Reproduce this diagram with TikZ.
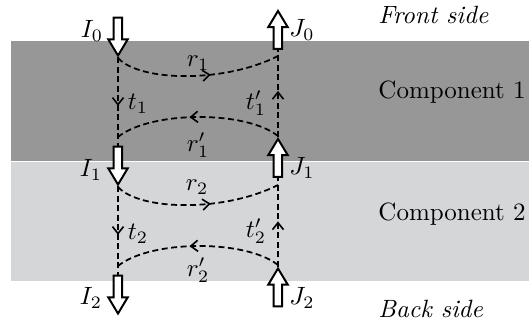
\documentclass[tikz,border=0pt]{standalone}
\usepackage{amsmath,amssymb}
\usepackage{tikz}
\usetikzlibrary{arrows.meta, shapes.arrows, decorations.markings}
\definecolor{layerdark}{RGB}{151, 151, 151}
\definecolor{layerlight}{RGB}{213, 214, 216}
\tikzset{
  flux/.style={
    single arrow,
    draw=black,
    fill=white,
    line width=0.8pt,
    inner sep=1.3pt,
    single arrow head extend=2.2pt,
    single arrow tip angle=62,
    minimum height=15.2pt
  },
  fluxdown/.style={flux, shape border rotate=270},
  fluxup/.style={flux, shape border rotate=90},
  ray/.style={
    line width=0.7pt,
    dash pattern=on 2.4pt off 1.4pt
  },
  midarrow/.style={
    postaction={decorate},
    decoration={markings,
      mark=at position #1 with {\arrow[line width=0.65pt]{Straight Barb[length=2.8pt, width=4.4pt]}}}
  },
  label/.style={inner sep=0pt, font=\normalsize}
}

\begin{document}
\begin{tikzpicture}[x=0.4pt, y=-0.4pt]
  \useasboundingbox (0,0) rectangle (529,325);

  % the two components
  \fill[layerdark] (11,41) rectangle (529,160.6);
  \fill[layerlight] (11,161.8) rectangle (529,281);

  % incoming and outgoing fluxes
  \node[fluxdown] (i0) at (118,33) {};
  \node[fluxdown] (i1) at (118,162) {};
  \node[fluxdown] (i2) at (118,291) {};
  \node[fluxup] (j0) at (278,33.5) {};
  \node[fluxup] (j1) at (278,161.5) {};
  \node[fluxup] (j2) at (278,291) {};

  % transmission
  \draw[ray, midarrow=0.55] (i0.tip) -- (i1.tail);
  \draw[ray, midarrow=0.55] (i1.tip) -- (i2.tail);
  \draw[ray, midarrow=0.53] (j1.tip) -- (j0.tail);
  \draw[ray, midarrow=0.51] (j2.tip) -- (j1.tail);

  % reflection
  \coordinate (a1) at (118,58);
  \coordinate (b1) at (278,56);
  \coordinate (c1) at (278,136);
  \coordinate (d1) at (118,137);
  \coordinate (a2) at (118,187);
  \coordinate (b2) at (278,185);
  \coordinate (c2) at (278,265);
  \coordinate (d2) at (118,266);
  \draw[ray, midarrow=0.58] (a1) .. controls (140,82) and (225,83) .. (b1);
  \draw[ray, midarrow=0.55] (c1) .. controls (245,110) and (150,111) .. (d1);
  \draw[ray, midarrow=0.58] (a2) .. controls (140,211) and (225,212) .. (b2);
  \draw[ray, midarrow=0.55] (c2) .. controls (245,239) and (150,240) .. (d2);

  % labels
  \node[label] (li0) at (92,31) {$I_0$};
  \node[label] (li1) at (91,170) {$I_1$};
  \node[label] (li2) at (91,298) {$I_2$};
  \node[label] (lj0) at (302,30) {$J_0$};
  \node[label] (lj1) at (302,168) {$J_1$};
  \node[label] (lj2) at (302,298) {$J_2$};
  \node[label] (lr1) at (198,63) {$r_1$};
  \node[label] (lq1) at (198,145) {$r'_1$};
  \node[label] (lr2) at (197,187) {$r_2$};
  \node[label] (lq2) at (198,270) {$r'_2$};
  \node[label] (lt1) at (138,104) {$t_1$};
  \node[label] (lu1) at (256,103) {$t'_1$};
  \node[label] (lt2) at (138,234) {$t_2$};
  \node[label] (lu2) at (256,231) {$t'_2$};

  \node[label, anchor=west] (front) at (378,15) {\textit{Front side}};
  \node[label, anchor=west] (comp1) at (378,92) {Component 1};
  \node[label, anchor=west] (comp2) at (378,214) {Component 2};
  \node[label, anchor=west] (back) at (378,309) {\textit{Back side}};
\end{tikzpicture}
\end{document}
